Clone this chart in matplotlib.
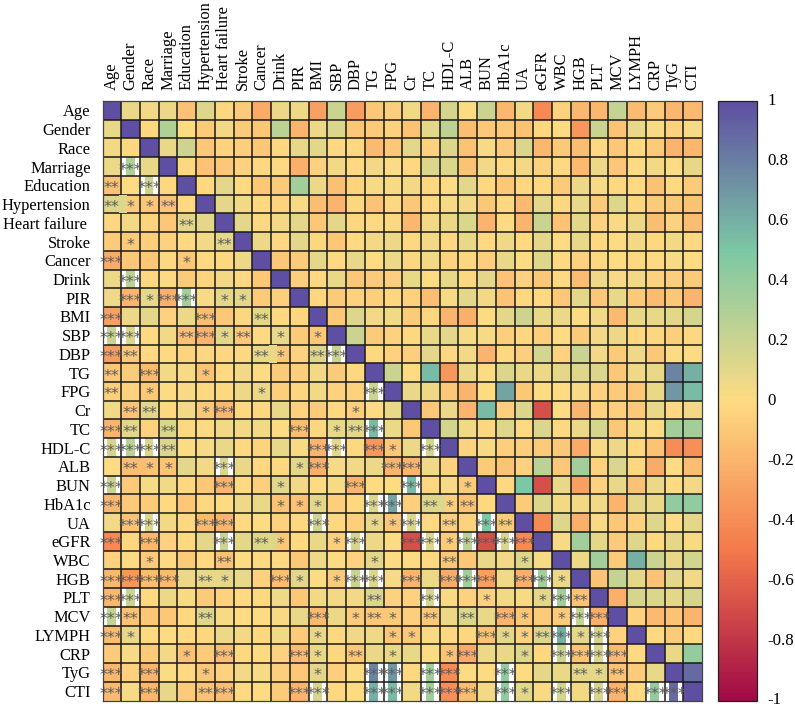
import matplotlib
matplotlib.use('Agg')
import matplotlib.pyplot as plt
import numpy as np
from matplotlib.colors import LinearSegmentedColormap, Normalize
from matplotlib.patches import Rectangle
from matplotlib.cm import ScalarMappable
from matplotlib.transforms import ScaledTranslation

plt.rcParams['font.family'] = ['Liberation Serif', 'DejaVu Serif']

labels = ['Age', 'Gender', 'Race', 'Marriage', 'Education', 'Hypertension', 'Heart failure',
          'Stroke', 'Cancer', 'Drink', 'PIR', 'BMI', 'SBP', 'DBP', 'TG', 'FPG', 'Cr', 'TC',
          'HDL-C', 'ALB', 'BUN', 'HbA1c', 'UA', 'eGFR', 'WBC', 'HGB', 'PLT', 'MCV', 'LYMPH',
          'CRP', 'TyG', 'CTI']

# upper triangle, each row starts right after the diagonal
upper = [
    [.08, .04, .07, -.13, .12, -.03, -.08, -.25, .07, .06, -.3, .2, -.32, -.1, -.07,
     .05, -.2, .15, 0, .2, -.18, .05, -.42, -.05, -.18, -.18, .22, -.16, -.08, -.18, -.17],
    [-.02, .3, 0, -.08, .04, -.08, -.1, .25, -.2, .07, .13, -.1, -.08, -.05,
     -.12, .1, .25, -.15, -.09, -.09, -.12, -.03, 0, -.35, .2, -.12, .08, .03, -.05, .03],
    [.08, .18, -.1, -.04, -.06, -.1, -.02, .09, .1, -.01, -.02, -.17, -.1,
     .1, -.05, .13, -.12, .03, -.08, .13, -.18, -.09, -.15, -.01, -.1, -.01, -.08, -.2, -.18],
    [-.02, -.12, -.1, -.05, -.02, -.01, -.22, -.05, .05, -.01, .04, .01,
     -.02, .13, .13, -.12, .05, -.01, .04, -.05, -.01, -.17, .07, -.1, 0, .04, .01, .09],
    [-.01, .1, -.01, -.1, -.08, .35, .07, -.14, -.04, .03, .02,
     .04, -.02, .01, .1, -.02, -.1, -.02, -.02, -.08, .07, .02, -.02, -.01, -.13, -.01, -.08],
    [.1, .05, -.01, -.04, .03, -.15, -.2, -.03, -.12, -.02,
     -.1, -.01, .03, .04, -.1, -.02, -.17, .1, -.02, .08, -.08, .12, -.03, -.08, -.1, -.12],
    [.1, -.02, .04, .1, -.1, .1, -.03, -.01, -.02,
     -.18, .05, .08, .14, -.2, 0, -.2, .2, -.12, .1, -.05, .02, .07, -.15, -.05, -.15],
    [.07, -.02, .1, -.03, -.1, -.01, .04, .07,
     -.02, .04, -.02, .08, -.01, .06, -.01, .1, 0, .08, -.01, 0, .04, -.02, .05, -.01],
    [-.1, -.08, .1, -.01, .08, 0, .07,
     -.03, .04, -.04, -.03, -.07, .08, 0, .12, -.01, -.05, -.02, 0, -.02, -.01, .03, 0],
    [-.07, -.02, .08, -.1, -.08, -.06,
     .08, 0, .08, -.02, .1, -.12, -.05, -.1, -.01, -.15, .06, .02, .05, -.05, -.07, -.08],
    [-.03, -.08, -.05, -.07, -.03,
     -.05, -.15, .02, .1, .04, -.12, -.02, -.01, -.1, .1, -.1, .08, -.08, -.16, -.1, -.2],
    [-.1, .12, .04, .05,
     -.08, -.03, -.2, -.22, 0, .1, .18, .08, .07, 0, .05, -.17, .08, .08, .1, .15],
    [.2, -.08, -.05,
     -.02, .08, .1, .03, .03, -.07, -.02, -.07, 0, -.08, .04, .07, -.02, -.03, -.06, -.02],
    [-.02, -.05,
     -.07, .1, -.02, .05, -.2, -.02, -.07, .15, -.05, .2, .04, -.08, .06, -.1, 0, 0],
    [.2,
     0, .55, -.35, .07, 0, .13, .08, .07, .1, .12, .13, -.1, .06, .08, .78, .6],
    [.08, .07, -.1, -.2, 0, .65, -.1, 0, 0, .03, -.05, -.08, -.1, .08, .7, .55],
    [-.1, .07, -.2, .55, -.07, .13, -.68, 0, -.2, -.05, -.07, -.09, .08, -.02, .05],
    [.17, .05, -.03, .12, -.01, .13, -.01, .07, .15, -.1, .02, .01, .35, .35],
    [-.05, .03, -.07, -.07, -.08, -.1, -.25, .02, .07, -.02, -.12, -.4, -.38],
    [-.08, -.12, -.05, .25, -.1, .35, -.05, .13, -.03, -.25, 0, -.15],
    [-.02, .5, -.68, .08, -.3, -.05, .08, -.13, .07, 0, .04],
    [-.08, .13, .04, .05, .05, -.2, .1, .08, .42, .42],
    [-.42, .12, -.22, .02, -.1, -.05, .12, 0, .1],
    [.03, .35, .1, -.08, .12, -.02, .1, .02],
    [.07, .35, -.08, .6, .2, .08, .17],
    [-.12, .22, .1, -.12, .1, .05],
    [-.22, .15, .14, .1, .15],
    [-.05, -.17, -.12, -.2],
    [-.01, -.08, -.01],
    [.08, .4],
    [.88],
]

# number of asterisks in the lower triangle: row -> {column: count}
stars = {
    3: {1: 3},
    4: {0: 2, 2: 3},
    5: {0: 2, 1: 1, 2: 1, 3: 2},
    6: {4: 2},
    7: {1: 1, 6: 2},
    8: {0: 3, 4: 1},
    9: {1: 3},
    10: {1: 3, 2: 1, 3: 3, 4: 3, 6: 1, 7: 1},
    11: {0: 3, 5: 3, 8: 2},
    12: {0: 3, 1: 3, 4: 2, 5: 3, 6: 1, 7: 2, 9: 1, 11: 1},
    13: {0: 3, 1: 2, 8: 2, 9: 1, 11: 2, 12: 3},
    14: {0: 2, 2: 3, 5: 1},
    15: {0: 2, 2: 1, 8: 1, 14: 3},
    16: {1: 2, 2: 2, 5: 1, 6: 3, 13: 1},
    17: {0: 3, 1: 2, 3: 2, 10: 3, 12: 1, 13: 2, 14: 3},
    18: {0: 3, 1: 3, 2: 3, 3: 2, 11: 3, 12: 3, 14: 3, 15: 1, 17: 3},
    19: {1: 2, 2: 1, 3: 1, 6: 3, 10: 1, 11: 3, 15: 3, 16: 3},
    20: {0: 3, 6: 3, 9: 1, 13: 3, 16: 3, 19: 1},
    21: {0: 3, 9: 1, 10: 1, 11: 1, 14: 3, 15: 3, 17: 2, 18: 1, 19: 2},
    22: {1: 3, 2: 3, 5: 3, 6: 3, 11: 3, 14: 1, 15: 1, 16: 3, 18: 2, 20: 3, 21: 2},
    23: {0: 3, 2: 3, 6: 3, 8: 2, 9: 1, 12: 1, 13: 3, 16: 3, 17: 3, 18: 1, 19: 3, 20: 3, 21: 3, 22: 3},
    24: {2: 1, 6: 2, 14: 1, 18: 2, 22: 1},
    25: {0: 3, 1: 3, 2: 3, 3: 3, 5: 2, 6: 1, 9: 3, 10: 1, 12: 1, 13: 3, 14: 3, 16: 3, 18: 3, 19: 3,
         20: 3, 22: 3, 23: 3, 24: 1},
    26: {0: 3, 1: 3, 14: 2, 17: 3, 20: 1, 23: 1, 24: 3, 25: 2},
    27: {0: 3, 1: 2, 5: 2, 11: 3, 13: 1, 14: 2, 15: 1, 17: 2, 19: 2, 21: 3, 22: 1, 24: 1, 25: 3, 26: 3},
    28: {0: 3, 1: 1, 11: 1, 15: 1, 16: 1, 20: 3, 21: 1, 22: 1, 23: 2, 24: 3, 25: 1, 26: 3},
    29: {4: 1, 6: 3, 10: 3, 11: 1, 13: 2, 15: 1, 18: 1, 19: 3, 22: 1, 24: 3, 25: 3, 26: 3, 27: 3},
    30: {0: 3, 2: 3, 5: 1, 11: 1, 14: 3, 15: 3, 17: 3, 18: 3, 21: 3, 25: 2, 26: 1, 27: 2},
    31: {0: 3, 2: 3, 5: 2, 6: 3, 10: 3, 11: 3, 14: 3, 15: 3, 17: 3, 18: 3, 19: 3, 21: 3, 22: 1,
         24: 3, 26: 3, 27: 3, 29: 3, 30: 3},
}

cbar_ticks = [-1, -0.8, -0.6, -0.4, -0.2, 0, 0.2, 0.4, 0.6, 0.8, 1]

n = len(labels)
corr = np.eye(n)
for i, row in enumerate(upper):
    corr[i, i + 1:] = row
    corr[i + 1:, i] = row

cmap = LinearSegmentedColormap.from_list(
    'corr', ['#A00A46', '#F4794B', '#FEDB83', '#7CC8A4', '#5E4FA2'])
norm = Normalize(-1, 1)

W, H = 795, 706
fig = plt.figure(figsize=(W / 100, H / 100), dpi=100)
ax = fig.add_axes([102.5 / W, 1 - 700.5 / H, 599.5 / W, 599.5 / H])
ax.pcolormesh(np.arange(n + 1), np.arange(n + 1), corr, cmap=cmap, norm=norm, zorder=1)
ax.set_xlim(0, n)
ax.set_ylim(n, 0)

# significant positive cells come out with white bands around the centre
for r, row_stars in stars.items():
    for c, k in row_stars.items():
        if k == 3 and corr[r, c] >= 0.1:
            ax.add_patch(Rectangle((c, r), 0.25, 1, color='white', lw=0, zorder=2))
            ax.add_patch(Rectangle((c + 0.72, r), 0.28, 1, color='white', lw=0, zorder=2))

ax.hlines(np.arange(1, n), 0, n, color='#1a1a1a', lw=1.1, zorder=3)
ax.vlines(np.arange(1, n), 0, n, color='#1a1a1a', lw=1.1, zorder=3)

# "**" next to a "*" cell spills over the cell border
for r, row_stars in stars.items():
    for c, k in row_stars.items():
        if k == 2 and row_stars.get(c + 1) == 1:
            ax.add_patch(Rectangle((c + 0.9, r + 0.04), 0.4, 0.92, color=cmap(norm(corr[r, c])),
                                   lw=0, zorder=4))

for r, row_stars in stars.items():
    for c, k in row_stars.items():
        ax.text(c + 0.5, r + 0.93, '*' * k, ha='center', va='baseline', fontsize=11.5,
                family='DejaVu Sans', color='#5a5a5a', zorder=5, clip_on=False)

for s in ax.spines.values():
    s.set_color('#444444')
    s.set_linewidth(0.9)
    s.set_zorder(6)

ax.xaxis.tick_top()
ax.set_xticks(np.arange(n) + 0.5)
ax.set_xticklabels(labels, rotation=90, ha='center', va='bottom', fontsize=11.9)
ax.set_yticks(np.arange(n) + 0.5)
ax.set_yticklabels([l + ' ' if l == 'Heart failure' else l for l in labels], fontsize=11.9)
ax.tick_params(length=0)
ax.tick_params(axis='x', pad=8)
ax.tick_params(axis='y', pad=8.5)

cax = fig.add_axes([717.8 / W, 1 - 700.5 / H, 39.5 / W, 599.5 / H])
cb = fig.colorbar(ScalarMappable(norm=norm, cmap=cmap), cax=cax)
cb.set_ticks(cbar_ticks)
cb.set_ticklabels([f'{t:g}' for t in cbar_ticks])
cb.ax.tick_params(length=0, labelsize=12.2, pad=7.5)
# nudge the colorbar labels up a little so -1 stays inside the figure
nudge = ScaledTranslation(0, 2 / 100, fig.dpi_scale_trans)
for t in cb.ax.get_yticklabels():
    t.set_va('center_baseline')
    t.set_transform(t.get_transform() + nudge)
cb.outline.set_edgecolor('#222222')
cb.outline.set_linewidth(0.9)

fig.savefig('out.png', dpi=100)
